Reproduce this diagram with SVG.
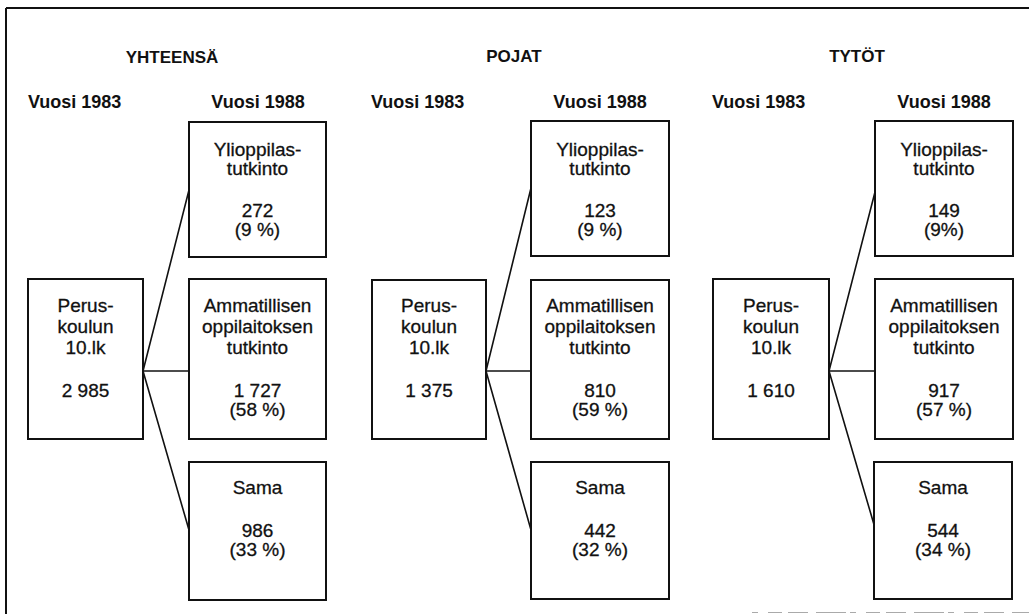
<svg xmlns="http://www.w3.org/2000/svg" width="1029" height="614" viewBox="0 0 1029 614">
<style>
.bx{fill:#fff;stroke:#111;stroke-width:2}
.ln{stroke:#111;stroke-width:1.6;fill:none}
.t{font-family:"Liberation Sans",Arial,sans-serif;font-size:19px;fill:#111;stroke:#111;stroke-width:0.3;text-anchor:middle}
.h{font-family:"Liberation Sans",Arial,sans-serif;font-size:18px;font-weight:bold;fill:#111}
.hc{text-anchor:middle}
.g{font-family:"Liberation Sans",Arial,sans-serif;font-size:17px;font-weight:bold;fill:#111;text-anchor:middle}
</style>
<rect width="1029" height="614" fill="#fff"/>
<g id="frame">
<line x1="6" y1="8" x2="1029" y2="8" stroke="#111" stroke-width="2"/>
<line x1="6" y1="8" x2="6" y2="614" stroke="#111" stroke-width="2"/>
<line x1="752" y1="612.5" x2="1029" y2="612.5" stroke="#aaa" stroke-width="1.2" stroke-dasharray="6 10 14 6 20 8 30 4"/>
</g>
<g id="headers">
<text class="g" x="172" y="63">YHTEENSÄ</text>
<text class="g" x="514" y="62">POJAT</text>
<text class="g" x="857" y="62">TYTÖT</text>
<text class="h" x="28" y="108">Vuosi 1983</text>
<text class="h hc" x="258" y="108">Vuosi 1988</text>
<text class="h" x="371" y="108">Vuosi 1983</text>
<text class="h hc" x="600" y="108">Vuosi 1988</text>
<text class="h" x="712" y="108">Vuosi 1983</text>
<text class="h hc" x="944" y="108">Vuosi 1988</text>
</g>
<g id="connectors">
<polyline class="ln" points="189,190 143,371 189,530"/>
<line class="ln" x1="143" y1="371" x2="189" y2="371"/>
<polyline class="ln" points="531,188 486,371 531,530"/>
<line class="ln" x1="486" y1="371" x2="531" y2="371"/>
<polyline class="ln" points="875,192 829,371 875,528"/>
<line class="ln" x1="829" y1="371" x2="875" y2="371"/>
</g>
<g id="y-1983">
<rect class="bx" x="28" y="279" width="115" height="160"/>
<text class="t" x="85.5" y="312"><tspan x="85.5">Perus-</tspan><tspan x="85.5" dy="21">koulun</tspan><tspan x="85.5" dy="21">10.lk</tspan></text>
<text class="t" x="85.5" y="397">2 985</text>
</g>
<g id="y-yo">
<rect class="bx" x="189" y="122" width="137" height="135"/>
<text class="t" x="257.5" y="156"><tspan x="257.5">Ylioppilas-</tspan><tspan x="257.5" dy="19">tutkinto</tspan></text>
<text class="t" x="257.5" y="217"><tspan x="257.5">272</tspan><tspan x="257.5" dy="19">(9 %)</tspan></text>
</g>
<g id="y-amm">
<rect class="bx" x="189" y="279" width="137" height="160"/>
<text class="t" x="257.5" y="312"><tspan x="257.5">Ammatillisen</tspan><tspan x="257.5" dy="21">oppilaitoksen</tspan><tspan x="257.5" dy="21">tutkinto</tspan></text>
<text class="t" x="257.5" y="397"><tspan x="257.5">1 727</tspan><tspan x="257.5" dy="19">(58 %)</tspan></text>
</g>
<g id="y-sama">
<rect class="bx" x="189" y="462" width="137" height="138"/>
<text class="t" x="257.5" y="494">Sama</text>
<text class="t" x="257.5" y="537"><tspan x="257.5">986</tspan><tspan x="257.5" dy="19">(33 %)</tspan></text>
</g>
<g id="p-1983">
<rect class="bx" x="372" y="280" width="114" height="159"/>
<text class="t" x="429" y="312"><tspan x="429">Perus-</tspan><tspan x="429" dy="21">koulun</tspan><tspan x="429" dy="21">10.lk</tspan></text>
<text class="t" x="429" y="397">1 375</text>
</g>
<g id="p-yo">
<rect class="bx" x="531" y="121" width="138" height="135"/>
<text class="t" x="600" y="156"><tspan x="600">Ylioppilas-</tspan><tspan x="600" dy="19">tutkinto</tspan></text>
<text class="t" x="600" y="217"><tspan x="600">123</tspan><tspan x="600" dy="19">(9 %)</tspan></text>
</g>
<g id="p-amm">
<rect class="bx" x="531" y="280" width="138" height="159"/>
<text class="t" x="600" y="312"><tspan x="600">Ammatillisen</tspan><tspan x="600" dy="21">oppilaitoksen</tspan><tspan x="600" dy="21">tutkinto</tspan></text>
<text class="t" x="600" y="397"><tspan x="600">810</tspan><tspan x="600" dy="19">(59 %)</tspan></text>
</g>
<g id="p-sama">
<rect class="bx" x="531" y="462" width="138" height="137"/>
<text class="t" x="600" y="494">Sama</text>
<text class="t" x="600" y="537"><tspan x="600">442</tspan><tspan x="600" dy="19">(32 %)</tspan></text>
</g>
<g id="t-1983">
<rect class="bx" x="713" y="279" width="116" height="160"/>
<text class="t" x="771" y="312"><tspan x="771">Perus-</tspan><tspan x="771" dy="21">koulun</tspan><tspan x="771" dy="21">10.lk</tspan></text>
<text class="t" x="771" y="397">1 610</text>
</g>
<g id="t-yo">
<rect class="bx" x="875" y="121" width="138" height="135"/>
<text class="t" x="944" y="156"><tspan x="944">Ylioppilas-</tspan><tspan x="944" dy="19">tutkinto</tspan></text>
<text class="t" x="944" y="217"><tspan x="944">149</tspan><tspan x="944" dy="19">(9%)</tspan></text>
</g>
<g id="t-amm">
<rect class="bx" x="875" y="279" width="138" height="160"/>
<text class="t" x="944" y="312"><tspan x="944">Ammatillisen</tspan><tspan x="944" dy="21">oppilaitoksen</tspan><tspan x="944" dy="21">tutkinto</tspan></text>
<text class="t" x="944" y="397"><tspan x="944">917</tspan><tspan x="944" dy="19">(57 %)</tspan></text>
</g>
<g id="t-sama">
<rect class="bx" x="874" y="462" width="138" height="137"/>
<text class="t" x="943" y="494">Sama</text>
<text class="t" x="943" y="537"><tspan x="943">544</tspan><tspan x="943" dy="19">(34 %)</tspan></text>
</g>
</svg>
